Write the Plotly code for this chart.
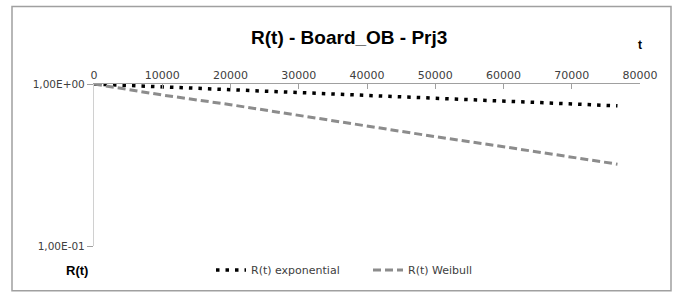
import plotly.graph_objects as go

t_values = [0, 10000, 20000, 30000, 40000, 50000, 60000, 70000, 76700]
r_exponential = [1.0, 0.960, 0.922, 0.885, 0.850, 0.816, 0.784, 0.753, 0.733]
r_weibull = [1.0, 0.855, 0.745, 0.641, 0.547, 0.473, 0.410, 0.353, 0.320]
x_ticks = [0, 10000, 20000, 30000, 40000, 50000, 60000, 70000, 80000]
y_tickvals = [0.1, 1]
y_ticktext = ["1,00E-01", "1,00E+00"]

FONT = "DejaVu Sans, sans-serif"
TFONT = "Liberation Sans, Arial, sans-serif"
W, H = 679, 295
L, R, T, B = 94, 39, 84, 48
pw, ph = W - L - R, H - T - B

def px(x):
    return (x - L) / pw

def py(y):
    return (H - B - y) / ph

fig = go.Figure()
fig.add_trace(go.Scatter(
    x=t_values, y=r_exponential, mode="lines", name="R(t) exponential",
    line=dict(color="#000000", width=3.5, dash="3.5px,6px"),
))
fig.add_trace(go.Scatter(
    x=t_values, y=r_weibull, mode="lines", name="R(t) Weibull",
    line=dict(color="#8c8c8c", width=3, dash="8px,4px"),
))

fig.update_layout(
    width=W, height=H,
    margin=dict(l=L, r=R, t=T, b=B),
    paper_bgcolor="white", plot_bgcolor="white",
    font=dict(family=FONT, size=11, color="#404040"),
    showlegend=True,
    legend=dict(orientation="h", x=px(211), y=py(270), xanchor="left", yanchor="middle",
                font=dict(size=11, color="#404040", family=FONT), bgcolor="rgba(0,0,0,0)",
                itemwidth=30, tracegroupgap=0, entrywidth=112, entrywidthmode="pixels"),
    xaxis=dict(side="top", range=[0, 80000], tickvals=x_ticks,
               ticktext=[str(v) for v in x_ticks],
               showline=True, linecolor="#a0a0a0", linewidth=1.2,
               ticks="inside", ticklen=5, tickcolor="#a0a0a0",
               showgrid=False, zeroline=False, fixedrange=True,
               tickfont=dict(size=11, color="#404040", family=FONT)),
    yaxis=dict(type="log", range=[-1, 0], tickvals=y_tickvals, ticktext=y_ticktext,
               showline=True, linecolor="#d0d0d0", linewidth=1.2,
               ticks="outside", ticklen=6, tickcolor="#a0a0a0",
               showgrid=False, zeroline=False, fixedrange=True,
               tickfont=dict(size=10.5, color="#404040", family=FONT)),
    shapes=[dict(type="rect", xref="paper", yref="paper",
                 x0=px(12), x1=px(671), y0=py(292), y1=py(6),
                 line=dict(color="#a0a0a0", width=1.5), fillcolor="rgba(0,0,0,0)",
                 layer="above")],
    annotations=[
        dict(text="<b>R(t) - Board_OB - Prj3</b>", xref="paper", yref="paper",
             x=px(349), y=py(37), xanchor="center", yanchor="middle",
             showarrow=False, font=dict(size=19, color="#000000", family=TFONT)),
        dict(text="<b>t</b>", xref="paper", yref="paper",
             x=px(640), y=py(45), xanchor="center", yanchor="middle",
             showarrow=False, font=dict(size=12, color="#000000", family=TFONT)),
        dict(text="<b>R(t)</b>", xref="paper", yref="paper",
             x=px(77), y=py(272), xanchor="center", yanchor="middle",
             showarrow=False, font=dict(size=13, color="#000000", family=TFONT)),
    ],
)

fig.write_html("out.html", config={"displayModeBar": False},
               post_script="document.body.style.margin='0';")
